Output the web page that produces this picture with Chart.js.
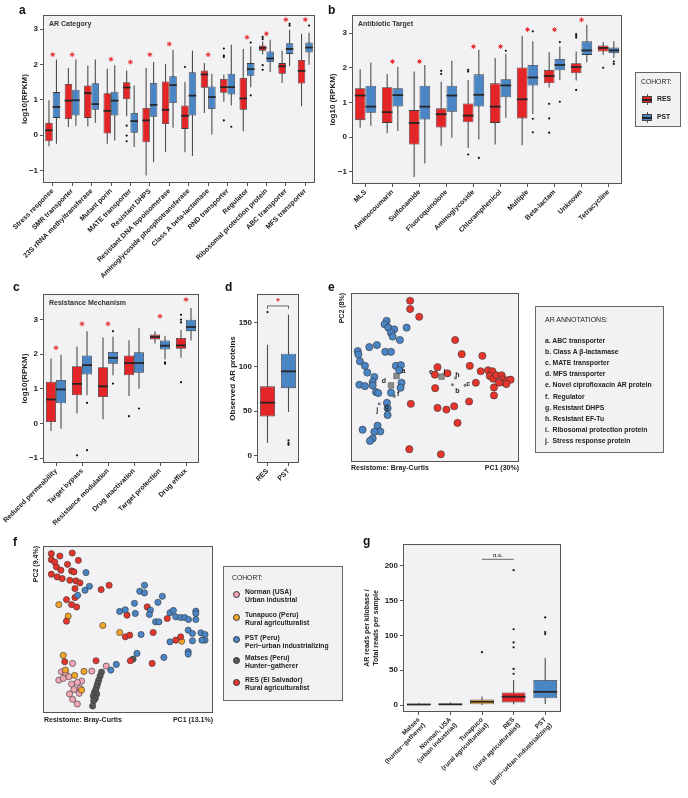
<!DOCTYPE html>
<html>
<head>
<meta charset="utf-8">
<script src="https://cdn.jsdelivr.net/npm/chart.js@4.4.0/dist/chart.umd.min.js"></script>
<style>
  body { margin: 0; background: #fff; font-family: 'Liberation Sans', Arial, sans-serif; }
  #page { position: relative; width: 688px; height: 798px; overflow: hidden; }
  canvas { position: absolute; }
  .t { position: absolute; font-weight: bold; color: #222; white-space: nowrap; line-height: 1; font-size: 7px; will-change: transform; }
  .pl { position: absolute; font-weight: bold; font-size: 12px; color: #111; line-height: 1; will-change: transform; }
  .lg { position: absolute; background: #f2f2f4; border: 1px solid #666; box-sizing: border-box; }
  .rot { transform-origin: left top; transform: rotate(-90deg); text-align: right; width: 60px; }
  .dot { position: absolute; width: 7px; height: 7px; border-radius: 50%; border: 0.7px solid #333; box-sizing: border-box; }
</style>
</head>
<body>
<div id="page">
  <canvas id="ca" width="335" height="300" style="left:0;top:0"></canvas>
  <canvas id="cb" width="310" height="300" style="left:320px;top:0"></canvas>
  <canvas id="cc" width="215" height="260" style="left:0;top:285px"></canvas>
  <canvas id="cd" width="100" height="260" style="left:215px;top:285px"></canvas>
  <canvas id="ce" width="190" height="185" style="left:340px;top:285px"></canvas>
  <canvas id="cf" width="195" height="180" style="left:30px;top:540px"></canvas>
  <canvas id="cg" width="220" height="263" style="left:360px;top:535px"></canvas>

  <div class="pl" style="left:19px;top:4px">a</div>
  <div class="pl" style="left:328px;top:4px">b</div>
  <div class="pl" style="left:13px;top:281px">c</div>
  <div class="pl" style="left:225px;top:281px">d</div>
  <div class="pl" style="left:328px;top:281px">e</div>
  <div class="pl" style="left:13px;top:536px">f</div>
  <div class="pl" style="left:363px;top:535px">g</div>

  <!-- legend b -->
  <div class="lg" style="left:635px;top:72px;width:46px;height:55px">
    <div class="t" style="left:5px;top:6px;font-size:6.8px;font-weight:normal">COHORT:</div>
    <div style="position:absolute;left:6px;top:21px;width:10px;height:11px">
      <div style="position:absolute;left:4.5px;top:0;width:1px;height:11px;background:#555"></div>
      <div style="position:absolute;left:0;top:2px;width:10px;height:7px;background:#e42527;border:1px solid #444;box-sizing:border-box"></div>
      <div style="position:absolute;left:0;top:5px;width:10px;height:1.5px;background:#222"></div>
    </div>
    <div class="t" style="left:21px;top:23px;font-size:6.8px">RES</div>
    <div style="position:absolute;left:6px;top:39px;width:10px;height:11px">
      <div style="position:absolute;left:4.5px;top:0;width:1px;height:11px;background:#555"></div>
      <div style="position:absolute;left:0;top:2px;width:10px;height:7px;background:#4a85c6;border:1px solid #444;box-sizing:border-box"></div>
      <div style="position:absolute;left:0;top:5px;width:10px;height:1.5px;background:#222"></div>
    </div>
    <div class="t" style="left:21px;top:41px;font-size:6.8px">PST</div>
  </div>

  <!-- e axis texts and legend -->
  <div class="t rot" style="left:338px;top:353px">PC2 (8%)</div>
  <div class="t" style="left:351px;top:464px">Resistome: Bray-Curtis</div>
  <div class="t" style="left:459px;top:464px;width:60px;text-align:right">PC1 (30%)</div>
  <div class="lg" style="left:535px;top:306px;width:129px;height:147px">
    <div class="t" style="left:9px;top:8.5px;font-size:7px;font-weight:normal">AR ANNOTATIONS:</div>
    <div class="t" style="left:9px;top:30.5px;font-size:6.8px">a. ABC transporter</div>
    <div class="t" style="left:9px;top:41.5px;font-size:6.8px">b. Class A β-lactamase</div>
    <div class="t" style="left:9px;top:52.8px;font-size:6.8px">c. MATE transporter</div>
    <div class="t" style="left:9px;top:63.8px;font-size:6.8px">d. MFS transporter</div>
    <div class="t" style="left:9px;top:75.3px;font-size:6.8px">e. Novel ciprofloxacin AR protein</div>
    <div class="t" style="left:9px;top:86.5px;font-size:6.8px">f.&nbsp; Regulator</div>
    <div class="t" style="left:9px;top:97.8px;font-size:6.8px">g. Resistant DHPS</div>
    <div class="t" style="left:9px;top:108.8px;font-size:6.8px">h. Resistant EF-Tu</div>
    <div class="t" style="left:9px;top:119.8px;font-size:6.8px">i.&nbsp; Ribosomal protection protein</div>
    <div class="t" style="left:9px;top:131.2px;font-size:6.8px">j.&nbsp; Stress response protein</div>
  </div>

  <!-- f axis texts and legend -->
  <div class="t rot" style="left:32px;top:606px">PC2 (9.4%)</div>
  <div class="t" style="left:44px;top:716px">Resistome: Bray-Curtis</div>
  <div class="t" style="left:153px;top:716px;width:60px;text-align:right">PC1 (13.1%)</div>
  <div class="lg" style="left:223px;top:566px;width:120px;height:135px">
    <div class="t" style="left:8px;top:7.5px;font-size:6.8px;font-weight:normal">COHORT:</div>
    <div class="dot" style="left:8.5px;top:23.5px;background:#f2a7b6"></div>
    <div class="t" style="left:21px;top:21.5px;font-size:6.8px">Norman (USA)</div>
    <div class="t" style="left:21px;top:29.5px;font-size:6.8px">Urban industrial</div>
    <div class="dot" style="left:8.5px;top:46.5px;background:#f4a62a"></div>
    <div class="t" style="left:21px;top:44.5px;font-size:6.8px">Tunapuco (Peru)</div>
    <div class="t" style="left:21px;top:52.5px;font-size:6.8px">Rural agriculturalist</div>
    <div class="dot" style="left:8.5px;top:68.5px;background:#4a85c6"></div>
    <div class="t" style="left:21px;top:67.5px;font-size:6.8px">PST (Peru)</div>
    <div class="t" style="left:21px;top:75.5px;font-size:6.8px">Peri−urban industrializing</div>
    <div class="dot" style="left:8.5px;top:89.5px;background:#575757"></div>
    <div class="t" style="left:21px;top:87.5px;font-size:6.8px">Matses (Peru)</div>
    <div class="t" style="left:21px;top:95.5px;font-size:6.8px">Hunter−gatherer</div>
    <div class="dot" style="left:8.5px;top:111.5px;background:#e8352b"></div>
    <div class="t" style="left:21px;top:109.5px;font-size:6.8px">RES (El Salvador)</div>
    <div class="t" style="left:21px;top:117.5px;font-size:6.8px">Rural agriculturalist</div>
  </div>
</div>

<script>
Chart.defaults.font.family = "'Liberation Sans', Arial, sans-serif";
Chart.defaults.color = '#222';
Chart.defaults.animation = false;

const RED = '#e42527';
const BLUE = '#4a85c6';

// ---- a: AR category, log10(RPKM), [low whisker, q1, median, q3, high whisker]
const arCats = ['Stress response', 'SMR transporter', '23S rRNA methyltransferase', 'Mutant porin',
  'MATE transporter', 'Resistant DHPS', 'Resistant DNA topoisomerase', 'Aminoglycoside phosphotransferase',
  'Class A beta-lactamase', 'RND transporter', 'Regulator', 'Ribosomal protection protein',
  'ABC transporter', 'MFS transporter'];
const arRes = [[-0.31,-0.17,0.14,0.35,0.99],[0.23,0.46,0.98,1.45,1.9],[0.25,0.49,1.19,1.41,1.97],
  [-0.24,0.05,0.69,1.19,1.88],[0.54,1.02,1.35,1.5,1.83],[-1.14,-0.2,0.42,0.77,1.9],
  [-0.48,0.32,0.72,1.52,2.02],[-0.48,0.18,0.55,0.84,1.51],[0.63,1.34,1.72,1.83,2.04],
  [0.95,1.2,1.36,1.59,1.72],[0.11,0.72,1.04,1.62,2.44],[2.28,2.39,2.47,2.54,2.65],
  [1.48,1.74,1.95,2.04,2.39],[0.82,1.46,1.82,2.13,2.87]];
const arPst = [[-0.24,0.49,0.8,1.22,2.14],[0.27,0.56,0.99,1.29,2.14],[0.35,0.72,0.88,1.47,2.14],
  [-0.15,0.56,0.98,1.23,1.98],[-0.33,0.07,0.4,0.63,1.41],[-0.76,0.52,0.86,1.48,2.07],
  [0.21,0.91,1.42,1.67,2.42],[-0.59,0.56,1.12,1.78,2.39],[0.02,0.74,1.08,1.38,1.74],
  [0.84,1.15,1.36,1.74,2.56],[1.36,1.68,1.87,2.04,2.51],[1.79,2.07,2.17,2.37,2.7],
  [1.95,2.3,2.44,2.6,2.98],[1.99,2.34,2.48,2.62,2.9]];
const arResOut = [[],[],[],[],[0.27,-0.01,-0.17],[],[],[1.93],[],[2.45,2.25,2.21,0.42],[],[2.78,2.72,1.98,1.85],[],[]];
const arPstOut = [[],[],[],[],[],[],[],[],[],[0.24],[2.62,1.13],[],[3.15,3.1],[3.1]];
const arStars = [2.28,2.28,null,2.15,2.07,2.28,2.58,null,2.28,null,2.77,2.87,3.27,3.27];

// ---- b: antibiotic target
const btCats = ['MLS','Aminocoumarin','Sulfonamide','Fluoroquinolone','Aminoglycoside',
  'Chloramphenicol','Multiple','Beta-lactam','Unknown','Tetracycline'];
const btRes = [[0.27,0.49,1.2,1.41,1.96],[0.11,0.41,0.72,1.44,1.82],[-1.15,-0.21,0.41,0.78,1.89],
  [-0.25,0.28,0.66,0.83,1.6],[-0.31,0.43,0.62,0.97,1.65],[-0.21,0.41,0.88,1.55,2.28],
  [-0.23,0.54,1.09,2.01,2.92],[1.43,1.55,1.76,1.94,2.45],[1.63,1.84,2.02,2.13,2.47],
  [2.37,2.47,2.57,2.64,2.74]];
const btPst = [[0.33,0.7,0.88,1.48,2.15],[0.18,0.88,1.21,1.41,2.03],[-0.76,0.51,0.88,1.48,2.08],
  [-0.02,0.73,1.2,1.48,2.2],[-0.07,0.88,1.22,1.81,2.52],[0.56,1.15,1.49,1.67,2.4],
  [0.67,1.49,1.72,2.08,2.76],[1.65,1.93,2.08,2.25,2.61],[2.16,2.37,2.5,2.76,3.24],
  [2.28,2.42,2.5,2.58,2.76]];
const btResOut = [[],[],[],[1.91,1.82],[1.94,1.89,-0.5],[],[],[0.96,0.54,0.13],[2.97,2.92,2.87,1.36],[2.0]];
const btPstOut = [[],[],[],[],[-0.6],[2.49],[3.05,0.53,0.14],[2.74,1.02],[],[2.18,2.11]];
const btStars = [null,2.18,2.18,null,2.61,2.61,3.1,3.1,3.38,null];

// ---- c: resistance mechanism
const rmCats = ['Reduced permeability','Target bypass','Resistance modulation','Drug inactivation',
  'Target protection','Drug efflux'];
const rmRes = [[-0.22,0.04,0.69,1.2,1.87],[0.29,0.81,1.14,1.65,2.22],[0.12,0.76,1.07,1.62,2.48],
  [0.79,1.39,1.74,1.96,2.4],[2.3,2.42,2.49,2.56,2.66],[1.89,2.15,2.25,2.46,2.7]];
const rmPst = [[-0.15,0.58,0.98,1.25,1.98],[0.81,1.41,1.68,1.96,2.66],[1.39,1.72,1.89,2.06,2.5],
  [1.0,1.46,1.74,2.05,2.75],[1.84,2.13,2.24,2.39,2.53],[2.39,2.66,2.78,2.99,3.33]];
const rmResOut = [[],[-0.92],[],[0.21],[],[3.13,2.99,2.91,1.19]];
const rmPstOut = [[],[0.59,-0.77],[2.66,1.15],[0.43],[1.76,1.72],[]];
const rmStars = [2.18,2.87,2.87,null,3.09,3.57];

// ---- d: observed AR proteins
const obCats = ['RES','PST'];
const obStats = [[14,44,59.5,78,125],[49,76,95,115,159]];
const obOut = [[162],[17,14,12]];

// ---- g: AR reads per kilobase / total reads
const rdCats = [['Matses','(hunter−gatherer)'],['Norman, USA','(urban industrial)'],
  ['Tunapuco','(rural agriculturalist)'],['RES','(rural agriculturalist)'],['PST','(peri−urban industrializing)']];
const rdStats = [[0,0.2,0.8,1.5,2.5],[0,0.3,1,2,3.5],[0,1,4.8,8,12.4],[1,3.8,12,18,36],[1.4,9.6,19,36,68]];
const rdOut = [[],[],[76],[194,109,90,83,52,45],[126,105,102]];
const rdColors = ['#575757','#f2a7b6','#f4a62a',RED,BLUE];

// ---- e: PCoA of resistome (RES vs PST), axes scaled 0..100
const ePst = [[21.2,83.5],[20.0,81.5],[22.2,79.5],[25.7,78.5],[23.8,76.5],[24.8,74.2],[29.1,72.2],[33.1,79.5],
  [10.9,68.0],[15.4,69.2],[20.4,65.2],[23.8,65.2],[4.0,65.6],[4.4,63.6],[5.3,59.6],[8.3,56.9],
  [26.7,56.9],[29.7,57.3],[28.7,54.3],[9.7,52.9],[13.9,50.3],[12.9,47.3],[5.0,45.7],[8.3,44.9],
  [12.9,45.3],[14.9,41.4],[16.2,40.8],[30.1,46.9],[29.5,44.0],[23.8,41.0],[21.4,35.0],[21.8,31.8],
  [21.8,27.8],[15.8,21.5],[17.4,18.1],[13.9,17.9],[6.9,19.1],[12.9,13.9],[11.3,12.5]];
const eRes = [[35.2,95.4],[35.2,90.5],[40.6,85.9],[62.0,72.2],[65.9,63.8],[78.2,62.8],[70.7,56.9],
  [51.5,56.1],[57.4,52.5],[49.9,51.7],[50.1,43.7],[74.3,46.9],[77.2,53.7],[81.6,54.3],[84.2,53.7],
  [82.6,50.9],[84.6,49.3],[86.5,51.3],[89.7,51.3],[90.5,48.9],[91.5,46.9],[93.1,48.3],[95.0,48.7],
  [92.5,46.1],[88.1,46.9],[85.1,44.1],[85.1,39.4],[35.6,34.4],[51.5,32.0],[56.8,31.0],[61.4,33.0],
  [70.3,35.8],[63.4,23.1],[34.7,7.6],[53.5,4.6]];
const eTags = ['a','d','f','j','g','e','i','h','b','c'];
const eTagXY = [[27.1,50.9],[23.8,45.3],[25.7,39.0],[16.8,34.4],[20.2,34.0],[50.5,52.9],[53.9,50.5],[62.2,49.7],[60.4,45.7],[67.9,45.3]];
const eTagSize = [3.9,3.9,1.6,1.3,1.3,1.3,3.9,1.3,1.3,1.3];

// ---- f: PCoA across five cohorts, axes scaled 0..100
const fNorman = [[17.4,29.7],[10.9,24.7],[13.2,24.1],[15.2,21.7],[9.3,19.7],[22.7,19.1],[16.8,17.3],
  [20.2,18.3],[21.9,14.7],[18.2,14.1],[15.6,11.4],[21.3,11.8],[17.4,8.2],[20.2,5.4],[28.7,25.1],
  [37.2,28.1],[11.9,20.7]];
const fTunapuco = [[9.3,64.9],[14.8,58.0],[35.2,52.4],[45.1,48.2],[81.6,43.0],[11.9,34.5],[13.2,25.7],
  [18.6,22.5],[24.1,24.9],[22.7,13.7]];
const fPst = [[25.3,84.1],[27.3,75.9],[24.7,73.5],[20.4,70.5],[59.7,76.5],[56.9,72.9],[59.7,71.9],
  [70.2,69.9],[67.6,66.3],[53.8,65.7],[45.1,60.8],[48.4,61.8],[54.3,59.6],[63.2,61.6],[62.6,59.0],
  [66.2,54.6],[68.2,54.6],[74.7,60.0],[76.7,61.4],[78.1,57.6],[81.0,57.2],[83.4,57.2],[85.6,56.0],
  [89.9,61.0],[89.9,59.6],[89.9,56.0],[85.4,49.6],[87.9,47.6],[92.9,48.0],[95.3,47.0],[95.3,43.6],
  [93.5,43.6],[87.9,43.2],[74.7,42.6],[85.4,36.7],[85.4,35.3],[71.1,33.3],[57.7,47.0],[55.3,35.7],
  [43.1,29.1],[39.9,25.7]];
const fMatses = [[34.4,24.5],[33.6,22.1],[32.8,19.7],[32.2,17.7],[31.6,15.7],[31.0,13.7],[30.2,12.2],
  [31.6,11.4],[29.6,10.2],[30.8,8.8],[29.8,7.4],[29.2,4.2],[53.0,32.3]];
const fRes = [[4.9,95.4],[9.9,94.0],[4.9,91.8],[6.9,90.4],[17.2,95.8],[20.8,91.4],[14.4,89.0],[7.9,87.5],
  [10.5,85.5],[16.8,85.1],[18.2,84.5],[4.9,83.1],[8.3,81.5],[11.3,80.5],[15.8,79.5],[19.4,79.1],
  [21.7,77.9],[18.8,74.5],[34.2,73.9],[38.9,76.5],[13.8,67.9],[18.8,69.1],[16.8,64.9],[19.8,63.5],
  [13.8,55.0],[49.4,58.6],[61.3,63.5],[73.1,56.6],[48.4,45.6],[51.0,46.6],[64.8,48.2],[78.1,43.6],
  [81.0,45.6],[31.2,31.3],[51.4,31.3],[64.2,29.7],[12.8,30.7]];

// ---- plugin: panel background, whiskers, medians, outliers, border, inner title, bracket, tags
const panelPlugin = {
  id: 'panel',
  beforeDraw(chart) {
    const a = chart.chartArea, c = chart.ctx;
    c.save();
    c.fillStyle = '#f2f2f4';
    c.fillRect(a.left, a.top, a.right - a.left, a.bottom - a.top);
    c.restore();
  },
  beforeDatasetsDraw(chart) {
    const y = chart.scales.y, c = chart.ctx;
    chart.data.datasets.forEach((ds, i) => {
      if (!ds.stats) return;
      chart.getDatasetMeta(i).data.forEach((bar, j) => {
        const s = ds.stats[j];
        c.save();
        c.strokeStyle = '#4d4d4d';
        c.lineWidth = 1.1;
        c.beginPath();
        c.moveTo(bar.x, y.getPixelForValue(s[0]));
        c.lineTo(bar.x, y.getPixelForValue(s[4]));
        c.stroke();
        c.restore();
      });
    });
  },
  afterDatasetsDraw(chart) {
    const y = chart.scales.y, c = chart.ctx;
    chart.data.datasets.forEach((ds, i) => {
      const meta = chart.getDatasetMeta(i);
      if (ds.stats) {
        meta.data.forEach((bar, j) => {
          const s = ds.stats[j];
          const ym = y.getPixelForValue(s[2]);
          c.save();
          c.strokeStyle = '#262626';
          c.lineWidth = 1.8;
          c.beginPath();
          c.moveTo(bar.x - bar.width / 2, ym);
          c.lineTo(bar.x + bar.width / 2, ym);
          c.stroke();
          c.fillStyle = '#111';
          (ds.outliers[j] || []).forEach(v => {
            c.beginPath();
            c.arc(bar.x, y.getPixelForValue(v), 1.1, 0, Math.PI * 2);
            c.fill();
          });
          c.restore();
        });
      }
      if (ds.tags) {
        c.save();
        c.fillStyle = '#222';
        c.font = 'bold 7px "Liberation Sans", Arial, sans-serif';
        c.textAlign = 'center';
        c.textBaseline = 'middle';
        meta.data.forEach((pt, j) => {
          const o = ds.tagOff[j];
          c.fillText(ds.tags[j], pt.x + o[0], pt.y + o[1]);
        });
        c.restore();
      }
    });
  },
  afterDraw(chart, args, opts) {
    const a = chart.chartArea, c = chart.ctx;
    c.save();
    c.strokeStyle = '#555';
    c.lineWidth = 1;
    c.strokeRect(a.left + 0.5, a.top + 0.5, a.right - a.left - 1, a.bottom - a.top - 1);
    if (opts.title) {
      c.fillStyle = '#333';
      c.font = 'bold 7px "Liberation Sans", Arial, sans-serif';
      c.textBaseline = 'middle';
      c.fillText(opts.title, a.left + 6, a.top + 9);
    }
    const b = opts.bracket;
    if (b) {
      const x = chart.scales.x, y = chart.scales.y;
      const x0 = x.getPixelForValue(b.from), x1 = x.getPixelForValue(b.to), yy = y.getPixelForValue(b.y);
      c.strokeStyle = '#444';
      c.lineWidth = 0.8;
      c.beginPath();
      c.moveTo(x0, yy + b.drop);
      c.lineTo(x0, yy);
      c.lineTo(x1, yy);
      c.lineTo(x1, yy + b.drop);
      c.stroke();
      c.fillStyle = b.color;
      c.font = b.font;
      c.textAlign = 'center';
      c.textBaseline = 'bottom';
      c.fillText(b.text, (x0 + x1) / 2, yy - b.gap);
    }
    c.restore();
  }
};

function xScale(h, size) {
  return {
    offset: true,
    grid: { offset: false, drawOnChartArea: false, tickLength: 3, color: '#555' },
    border: { display: false },
    ticks: { autoSkip: false, minRotation: 45, maxRotation: 45, padding: 1, color: '#222',
      font: { size: size, weight: 'bold' } },
    afterFit(s) { s.height = h; }
  };
}

function yScale(w, min, max, step, title) {
  return {
    min: min, max: max,
    grid: { drawOnChartArea: false, tickLength: 3, color: '#555' },
    border: { display: false },
    ticks: { stepSize: step, includeBounds: false, padding: 2, color: '#222',
      font: { size: 8, weight: 'bold' },
      callback: v => String(v).replace('-', '−') },
    title: { display: true, text: title, padding: 0, color: '#222', font: { size: 8, weight: 'bold' } },
    afterFit(s) { s.width = w; }
  };
}

function boxSet(stats, out, color, cp) {
  return {
    type: 'bar',
    data: stats.map(s => [s[1], s[3]]),
    stats: stats,
    outliers: out,
    backgroundColor: color,
    borderColor: '#3d3d3d',
    borderWidth: 0.8,
    borderSkipped: false,
    categoryPercentage: cp,
    barPercentage: 1
  };
}

function starSet(stars) {
  return {
    type: 'line', data: stars, showLine: false,
    pointStyle: 'star', pointRadius: 2.4, borderColor: RED, backgroundColor: RED, borderWidth: 0.9
  };
}

function boxChart(id, labels, datasets, pad, xs, ys, title, bracket) {
  return new Chart(document.getElementById(id), {
    type: 'bar',
    data: { labels: labels, datasets: datasets },
    options: {
      responsive: false,
      animation: false,
      layout: { padding: pad },
      plugins: { legend: { display: false }, tooltip: { enabled: false },
        panel: { title: title, bracket: bracket } },
      scales: { x: xs, y: ys }
    },
    plugins: [panelPlugin]
  });
}

const pts = arr => arr.map(p => ({ x: p[0], y: p[1] }));
function dotSet(arr, color, r) {
  return { data: pts(arr), backgroundColor: color, borderColor: '#333', borderWidth: 0.6, pointRadius: r };
}

function scatterChart(id, datasets, pad) {
  return new Chart(document.getElementById(id), {
    type: 'scatter',
    data: { datasets: datasets },
    options: {
      responsive: false,
      animation: false,
      layout: { padding: pad },
      plugins: { legend: { display: false }, tooltip: { enabled: false } },
      scales: {
        x: { display: false, min: 0, max: 100 },
        y: { display: false, min: 0, max: 100 }
      }
    },
    plugins: [panelPlugin]
  });
}

// a
boxChart('ca', arCats,
  [boxSet(arRes, arResOut, RED, 0.77), boxSet(arPst, arPstOut, BLUE, 0.77), starSet(arStars)],
  { left: 20, right: 20, top: 15, bottom: 0 },
  xScale(117, 7), yScale(23, -1.35, 3.4, 1, 'log10(RPKM)'), 'AR Category');

// b
boxChart('cb', btCats,
  [boxSet(btRes, btResOut, RED, 0.79), boxSet(btPst, btPstOut, BLUE, 0.79), starSet(btStars)],
  { left: 8, right: 8, top: 15, bottom: 0 },
  xScale(116, 7), yScale(24, -1.35, 3.52, 1, 'log10 (RPKM)'), 'Antibiotic Target');

// c
boxChart('cc', rmCats,
  [boxSet(rmRes, rmResOut, RED, 0.77), boxSet(rmPst, rmPstOut, BLUE, 0.77), starSet(rmStars)],
  { left: 20, right: 16, top: 9, bottom: 0 },
  xScale(82, 7), yScale(23, -1.14, 3.73, 1, 'log10(RPKM)'), 'Resistance Mechanism');

// d
boxChart('cd', obCats,
  [boxSet(obStats, obOut, [RED, BLUE], 0.72)],
  { left: 13, right: 16, top: 9, bottom: 0 },
  xScale(82, 7), yScale(29, -8.7, 182.5, 50, 'Observed AR proteins'), null,
  { from: 0, to: 1, y: 169, drop: 3, gap: 0, text: '*', color: RED, font: 'bold 9px "Liberation Sans", Arial' });

// e
const eAnn = {
  data: pts(eTagXY), pointStyle: 'rect', pointRadius: eTagSize,
  backgroundColor: '#8c8c8c', borderColor: '#555', borderWidth: 0.6,
  tags: eTags,
  tagOff: [[7,-5],[-7,-4],[4,-2],[-2,6],[2,3],[-5,-1],[3,-5],[2,-3],[5,6],[3,-1]]
};
scatterChart('ce', [dotSet(ePst, BLUE, 3.6), dotSet(eRes, '#e8352b', 3.6), eAnn],
  { left: 11, right: 11, top: 8, bottom: 8 });

// f
scatterChart('cf', [
  dotSet(fPst, BLUE, 3.1), dotSet(fRes, '#e8352b', 3.1), dotSet(fTunapuco, '#f4a62a', 3.1),
  dotSet(fNorman, '#f2a7b6', 3.1), dotSet(fMatses, '#575757', 3.1)],
  { left: 13, right: 12, top: 6, bottom: 7 });

// g
const gY = yScale(40, -10, 231.6, 50, ['AR reads per kilobase /', 'Total reads per sample']);
gY.title.font = { size: 7, weight: 'bold' };
boxChart('cg', rdCats,
  [boxSet(rdStats, rdOut, rdColors, 0.75)],
  { left: 3, right: 19, top: 9, bottom: 0 },
  xScale(86, 6.5), gY, null,
  { from: 2, to: 3, y: 209.6, drop: 0, gap: 1, text: 'n.s.', color: '#333', font: 'bold 5.5px "Liberation Sans", Arial' });
</script>
</body>
</html>
